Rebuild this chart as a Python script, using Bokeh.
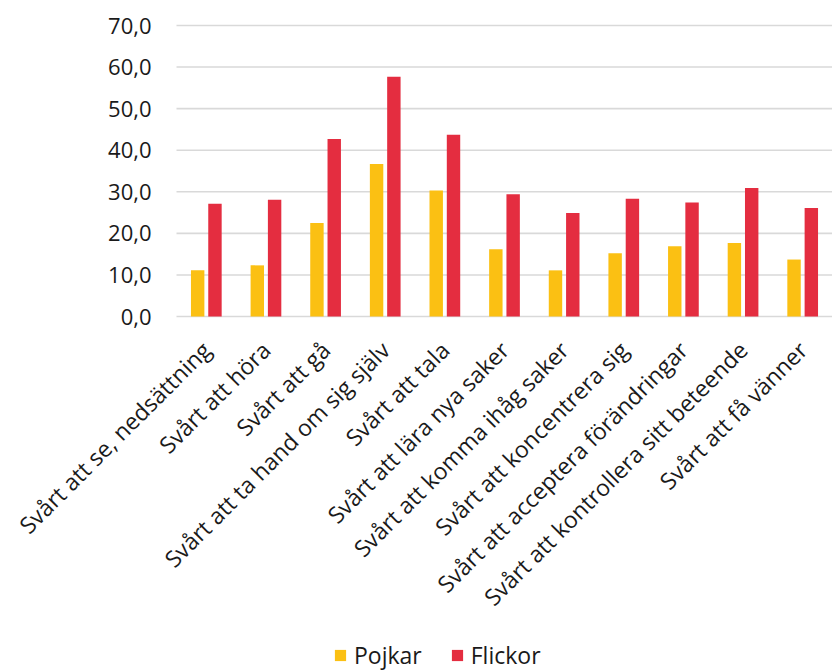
import math
from bokeh.plotting import figure
from bokeh.models import Range1d, Legend, LegendItem, ColumnDataSource, LabelSet
from bokeh.core.properties import value
from bokeh.embed import file_html
from bokeh.resources import INLINE

categories = [
    "Svårt att se, nedsättning",
    "Svårt att höra",
    "Svårt att gå",
    "Svårt att ta hand om sig själv",
    "Svårt att tala",
    "Svårt att lära nya saker",
    "Svårt att komma ihåg saker",
    "Svårt att koncentrera sig",
    "Svårt att acceptera förändringar",
    "Svårt att kontrollera sitt beteende",
    "Svårt att få vänner",
]
pojkar = [11.1, 12.3, 22.5, 36.7, 30.3, 16.2, 11.1, 15.2, 16.9, 17.7, 13.7]
flickor = [27.1, 28.1, 42.7, 57.7, 43.7, 29.4, 24.9, 28.3, 27.4, 30.9, 26.1]
y_ticks = [0, 10, 20, 30, 40, 50, 60, 70]
series_names = ["Pojkar", "Flickor"]

FONT = "Open Sans"
YELLOW = "#FBC013"
RED = "#E42D40"
TEXT = "#1a1a1a"
GRID = "#d9d9d9"

# Layout: one frame covering the whole page; value area 0..70 sits in the
# upper part (y=25..316 px), category area x=176..832 px.
W, H = 832, 671
PLOT_LEFT, PLOT_TOP, PLOT_BOTTOM = 176, 25, 316
n = len(categories)
cat_px = (W - PLOT_LEFT) / n
px_per_unit = (PLOT_BOTTOM - PLOT_TOP) / 70
x_start = -0.5 - PLOT_LEFT / cat_px
x_end = x_start + W / cat_px
y_top = 70 + PLOT_TOP / px_per_unit
y_bottom = y_top - H / px_per_unit

idx = list(range(n))
src = ColumnDataSource(dict(
    x=idx, cat=categories, pojkar=pojkar, flickor=flickor,
    xp=[i - 0.145 for i in idx], xf=[i + 0.145 for i in idx],
    xl=[i + 0.0 for i in idx],
))

p = figure(
    x_range=Range1d(x_start, x_end), y_range=Range1d(y_bottom, y_top),
    frame_width=W, frame_height=H,
    min_border_left=0, min_border_top=0, min_border_right=0, min_border_bottom=0,
    output_backend="svg", toolbar_location=None,
)
p.xaxis.visible = False
p.yaxis.visible = False
p.xgrid.grid_line_color = None
p.ygrid.grid_line_color = None
p.outline_line_color = None
p.background_fill_color = "white"
p.border_fill_color = "white"

# horizontal gridlines across the category area
grid_src = ColumnDataSource(dict(
    y=y_ticks, lab=[f"{t:.1f}".replace(".", ",") for t in y_ticks],
))
p.segment(x0=-0.5, x1=n - 0.5, y0="y", y1="y", source=grid_src,
          line_color=GRID, line_width=1.6)

r1 = p.vbar(x="xp", top="pojkar", width=0.225, source=src,
            fill_color=YELLOW, line_color=None)
r2 = p.vbar(x="xf", top="flickor", width=0.225, source=src,
            fill_color=RED, line_color=None)

# y tick labels
ylabels = LabelSet(
    x=-0.5, y="y", text="lab", source=grid_src, x_offset=-25,
    text_align="right", text_baseline="middle",
    text_font=value(FONT), text_font_size="22px", text_color=TEXT,
)
p.add_layout(ylabels)

# category labels, rotated 45 degrees
xlabels = LabelSet(
    x="xl", y=-7.0, text="cat", source=src,
    angle=math.pi / 4, text_align="right", text_baseline="middle",
    text_font=value(FONT), text_font_size="23px", text_color=TEXT,
)
p.add_layout(xlabels)

legend = Legend(
    items=[LegendItem(label=series_names[0], renderers=[r1]),
           LegendItem(label=series_names[1], renderers=[r2])],
    orientation="horizontal",
    location=(333, 0),
    label_text_font=FONT,
    label_text_font_size="23px",
    label_text_color=TEXT,
    label_standoff=7,
    glyph_width=14, glyph_height=14,
    spacing=28, padding=0, margin=0,
    border_line_color=None,
    background_fill_alpha=0,
)
p.add_layout(legend, "center")

open("out.html", "w").write(file_html(p, INLINE))
